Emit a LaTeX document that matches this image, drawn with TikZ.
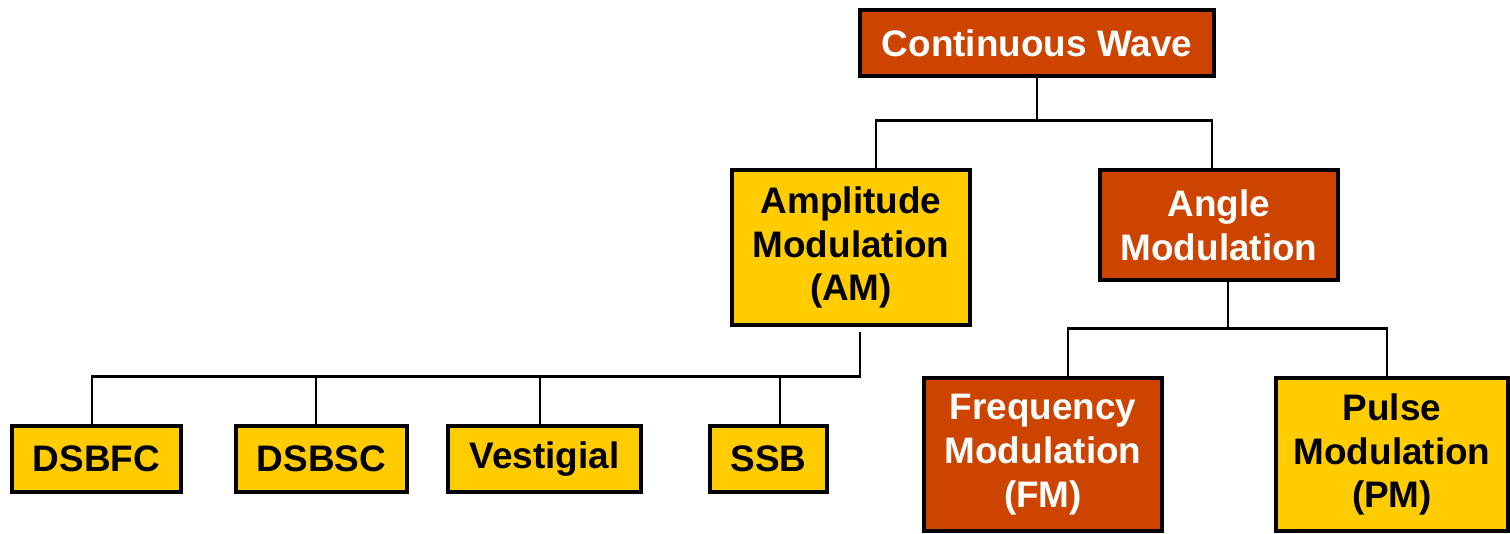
\documentclass[tikz,border=0pt]{standalone}
\usepackage{fontspec}
\setmainfont{Liberation Sans}
\definecolor{rustred}{RGB}{204,68,0}
\definecolor{gold}{RGB}{255,204,0}
\tikzset{
  box/.style={draw=black, line width=1pt, inner sep=0pt, align=center,
    font=\fontsize{10.5}{12.5}\selectfont\bfseries},
  redbox/.style={box, fill=rustred, text=white},
  goldbox/.style={box, fill=gold, text=black},
  wire/.style={line width=0.8pt}
}
\begin{document}
\begin{tikzpicture}
  \useasboundingbox (0,0) rectangle (15.1,5.33);
  % top level
  \node[redbox, minimum width=3.54cm, minimum height=0.66cm] (cw) at (10.37,4.90) {Continuous Wave};
  % second level
  \node[goldbox, minimum width=2.38cm, minimum height=1.55cm] (am) at (8.51,2.855) {Amplitude\\Modulation\\(AM)};
  \node[redbox, minimum width=2.38cm, minimum height=1.10cm] (ang) at (12.19,3.08) {Angle\\Modulation};
  % AM children
  \node[goldbox, minimum width=1.69cm, minimum height=0.66cm] (dsbfc) at (0.965,0.74) {DSBFC};
  \node[goldbox, minimum width=1.71cm, minimum height=0.66cm] (dsbsc) at (3.215,0.74) {DSBSC};
  \node[goldbox, minimum width=1.93cm, minimum height=0.66cm] (vest) at (5.445,0.74) {Vestigial};
  \node[goldbox, minimum width=1.17cm, minimum height=0.66cm] (ssb) at (7.685,0.74) {SSB};
  % angle children
  \node[redbox, minimum width=2.38cm, minimum height=1.53cm] (fm) at (10.43,0.785) {Frequency\\Modulation\\(FM)};
  \node[goldbox, minimum width=2.32cm, minimum height=1.53cm] (pm) at (13.92,0.785) {Pulse\\Modulation\\(PM)};

  % connectors
  \draw[wire] ([xshift=0.25cm]am.north) -- ++(0,0.48) -| (cw.south);
  \draw[wire] ([xshift=-0.07cm]ang.north) -- ++(0,0.48) -| (cw.south);
  \foreach \n/\dx in {dsbfc/-0.045, dsbsc/-0.055, vest/-0.045, ssb/0.115}
    \draw[wire, shorten >=0.05cm] ([xshift=\dx cm]\n.north) -- ++(0,0.48) -| ([xshift=0.09cm]am.south);
  \draw[wire] ([xshift=0.25cm]fm.north) -- ++(0,0.48) -| ([xshift=0.09cm]ang.south);
  \draw[wire] ([xshift=-0.05cm]pm.north) -- ++(0,0.48) -| ([xshift=0.09cm]ang.south);
\end{tikzpicture}
\end{document}
